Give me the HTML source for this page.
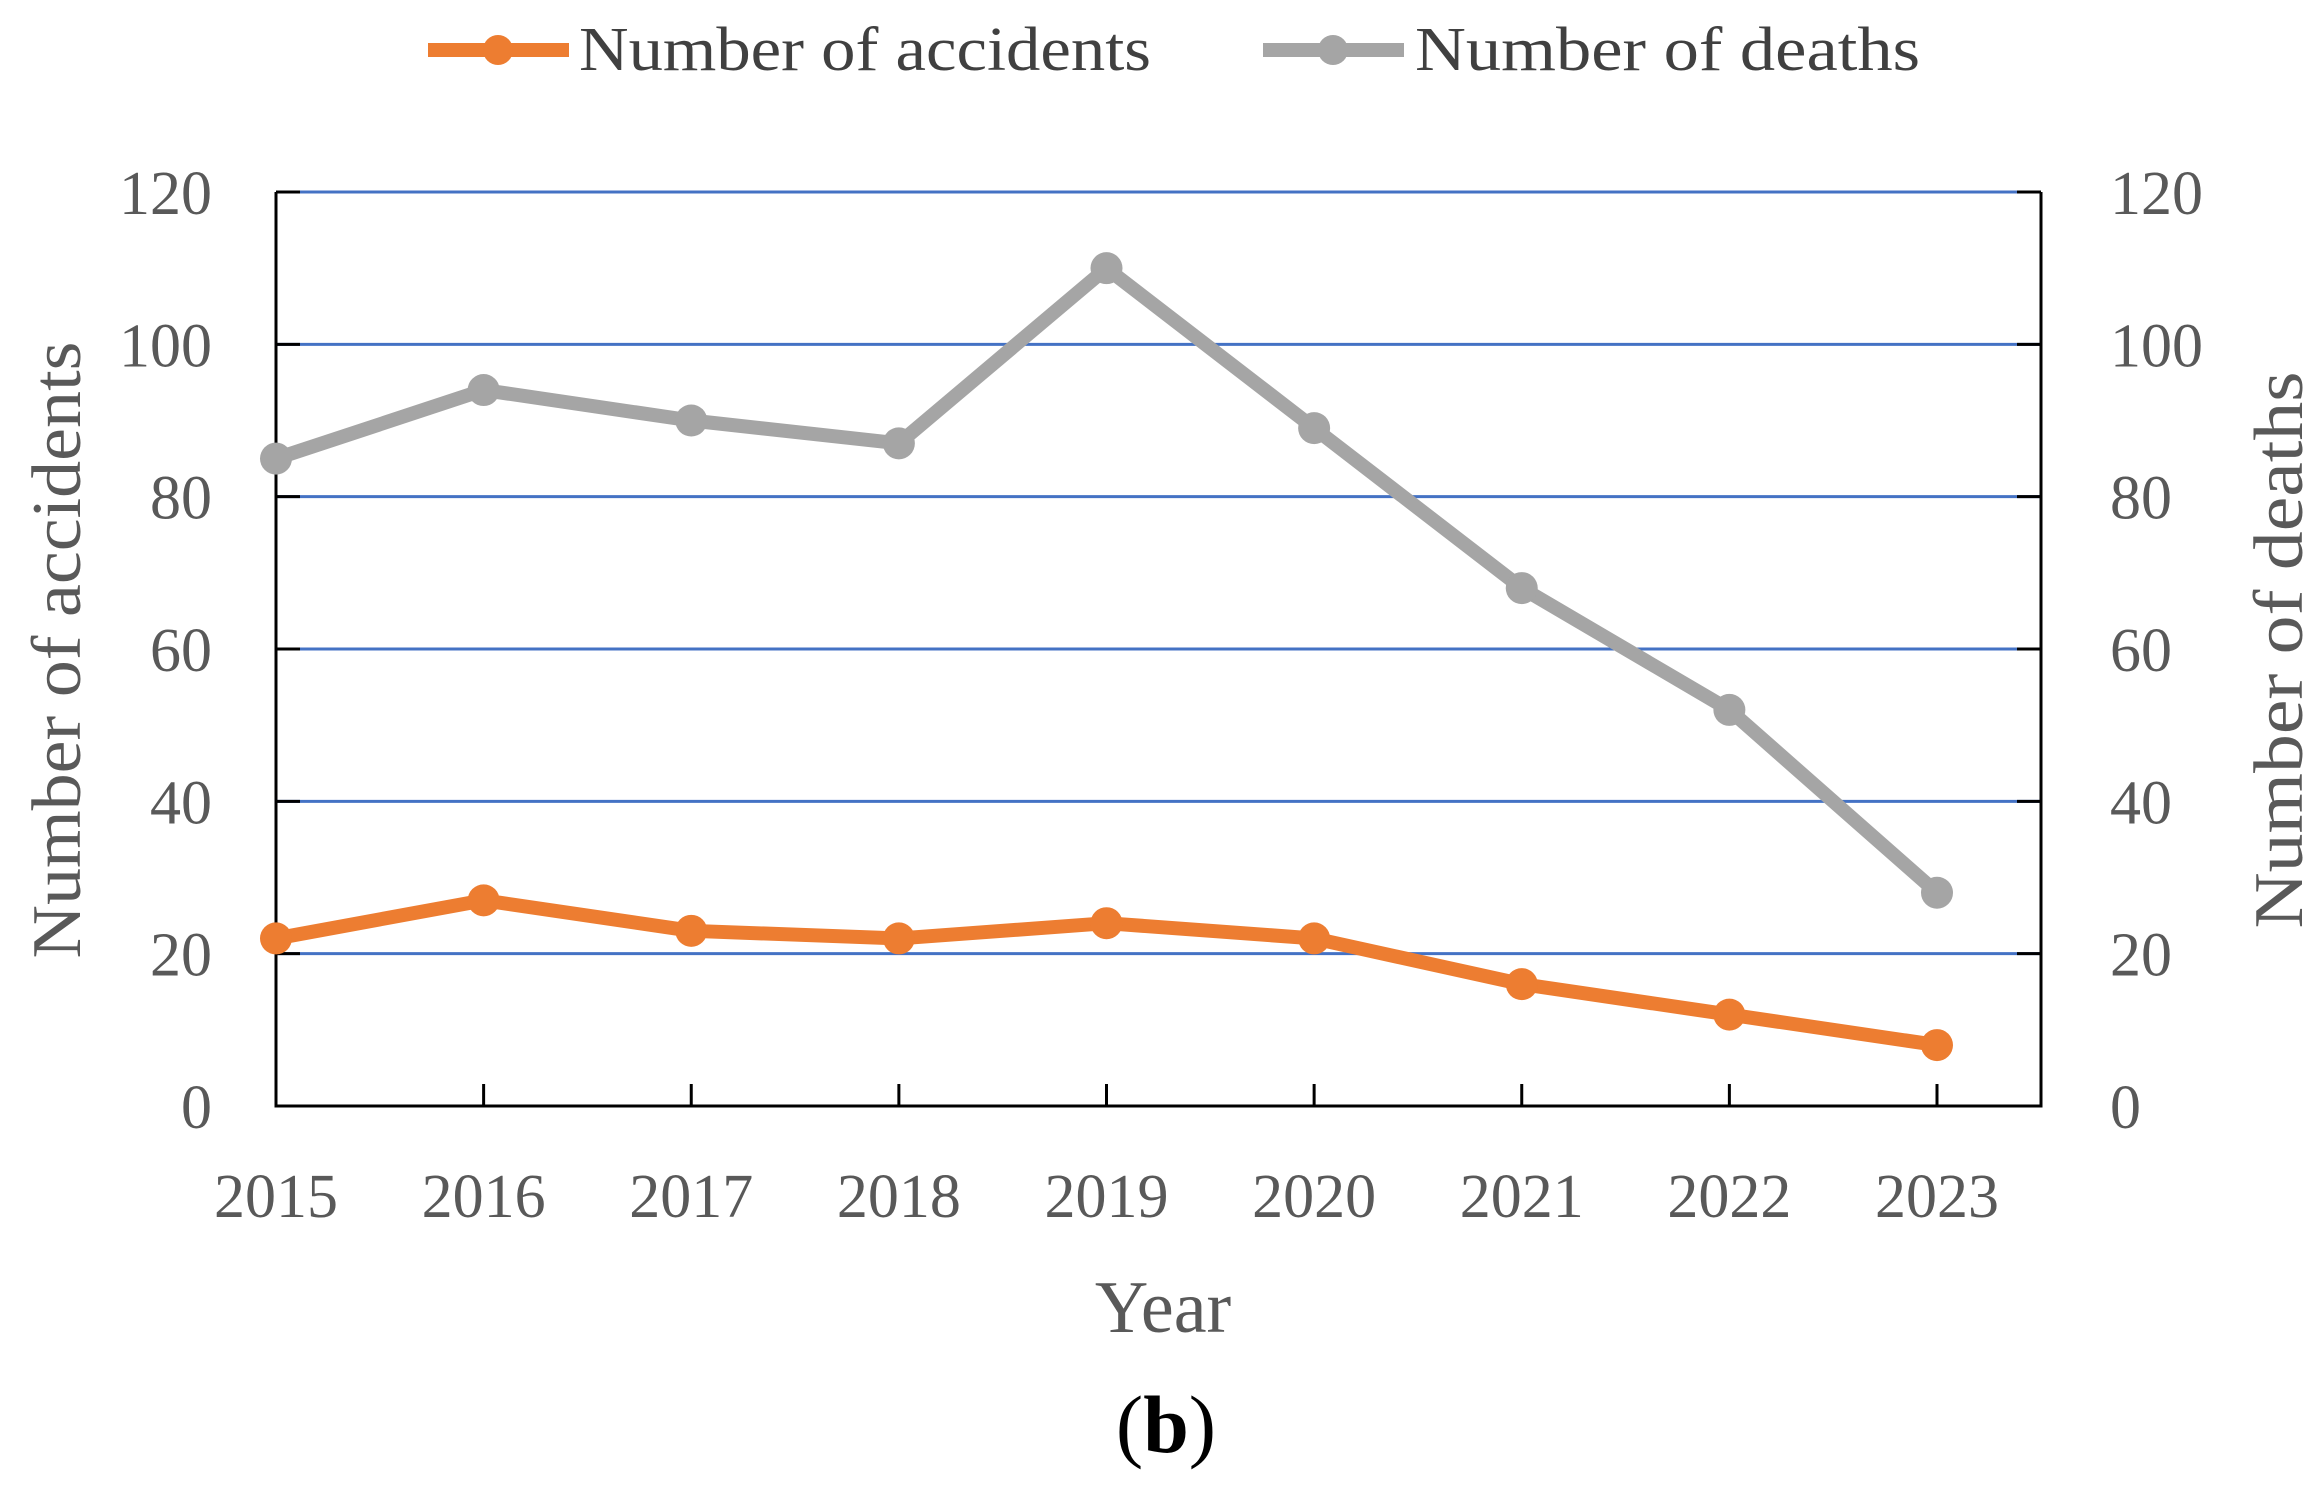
<!DOCTYPE html>
<html><head><meta charset="utf-8"><style>
html,body{margin:0;padding:0;background:#fff;}
svg{display:block;}
text{font-family:"Liberation Serif",serif;}
</style></head><body>
<svg id="chart" width="2319" height="1487" viewBox="0 0 2319 1487" xmlns="http://www.w3.org/2000/svg">
<g id="grid"></g>
<g id="axes"></g>
<g id="series"></g>
<g>
  <g>
    <line x1="428" y1="50" x2="569" y2="50" stroke="#ed7d31" stroke-width="14"/>
    <circle cx="498" cy="50" r="15" fill="#ed7d31"/>
    <text x="579" y="70" font-size="62" fill="#404040" textLength="572" lengthAdjust="spacingAndGlyphs">Number of accidents</text>
  </g>
  <g>
    <line x1="1263" y1="50" x2="1404" y2="50" stroke="#a5a5a5" stroke-width="14"/>
    <circle cx="1333" cy="50" r="15" fill="#a5a5a5"/>
    <text x="1415" y="70" font-size="62" fill="#404040" textLength="505" lengthAdjust="spacingAndGlyphs">Number of deaths</text>
  </g>
</g>
<text x="0" y="0" font-size="70" fill="#595959" text-anchor="middle" textLength="617" lengthAdjust="spacingAndGlyphs" transform="translate(80,650) rotate(-90)">Number of accidents</text>
<text x="0" y="0" font-size="70" fill="#595959" text-anchor="middle" textLength="557" lengthAdjust="spacingAndGlyphs" transform="translate(2302,650) rotate(-90)">Number of deaths</text>
<text x="1163" y="1332" font-size="74" fill="#595959" text-anchor="middle">Year</text>
<text x="1166" y="1452" font-size="82" fill="#000" text-anchor="middle">(<tspan font-weight="bold">b</tspan>)</text>
</svg>
<script>
const years = ["2015","2016","2017","2018","2019","2020","2021","2022","2023"];
const accidents = [22, 27, 23, 22, 24, 22, 16, 12, 8];
const deaths = [85, 94, 90, 87, 110, 89, 68, 52, 28];
const yTicks = [0, 20, 40, 60, 80, 100, 120];

const NS = "http://www.w3.org/2000/svg";
const L = 276, R = 2041, T = 192, B = 1106;
const X0 = 276, X1 = 1937;
const yMax = 120;
function xPos(i){ return X0 + (X1 - X0) * i / (years.length - 1); }
function yPos(v){ return B - (B - T) * v / yMax; }
function mk(tag, attrs, parent){
  const e = document.createElementNS(NS, tag);
  for (const k in attrs) e.setAttribute(k, attrs[k]);
  parent.appendChild(e);
  return e;
}
const grid = document.getElementById('grid');
const axes = document.getElementById('axes');
const series = document.getElementById('series');

yTicks.forEach(v => {
  const y = yPos(v);
  if (v > 0) {
    const g = mk('line', {x1: L, x2: R, y1: y, y2: y, stroke: '#4472c4', 'stroke-width': 3}, grid);
    
    
    mk('line', {x1: L, x2: L + 24, y1: y, y2: y, stroke: '#000', 'stroke-width': 3}, axes);
    mk('line', {x1: R - 24, x2: R, y1: y, y2: y, stroke: '#000', 'stroke-width': 3}, axes);
  }
  const tl = mk('text', {x: 212, y: y + 22, 'font-size': 62, fill: '#595959', 'text-anchor': 'end'}, axes);
  tl.textContent = v;
  
  
  const tr = mk('text', {x: 2110, y: y + 22, 'font-size': 62, fill: '#595959', 'text-anchor': 'start'}, axes);
  tr.textContent = v;
  
  
});
const lf = mk('line', {x1: L, x2: L, y1: T, y2: B + 1.5, stroke: '#000', 'stroke-width': 3}, axes);


const rf = mk('line', {x1: R, x2: R, y1: T, y2: B + 1.5, stroke: '#000', 'stroke-width': 3}, axes);


const bf = mk('line', {x1: L, x2: R, y1: B, y2: B, stroke: '#000', 'stroke-width': 3}, axes);



years.forEach((yr, i) => {
  const x = xPos(i);
  mk('line', {x1: x, x2: x, y1: B - 22, y2: B, stroke: '#000', 'stroke-width': 3}, axes);
  const t = mk('text', {x: x, y: 1217, 'font-size': 62, fill: '#595959', 'text-anchor': 'middle'}, axes);
  t.textContent = yr;
  
  
});

function drawSeries(vals, color, name){
  const pts = vals.map((v, i) => xPos(i) + ',' + yPos(v)).join(' ');
  const pl = mk('polyline', {points: pts, fill: 'none', stroke: color, 'stroke-width': 14, 'stroke-linejoin': 'round'}, series);
  
  
  vals.forEach((v, i) => {
    const c = mk('circle', {cx: xPos(i), cy: yPos(v), r: 16, fill: color}, series);
    
    
  });
}
drawSeries(deaths, '#a5a5a5', 'deaths');
drawSeries(accidents, '#ed7d31', 'accidents');
</script>
</body></html>
